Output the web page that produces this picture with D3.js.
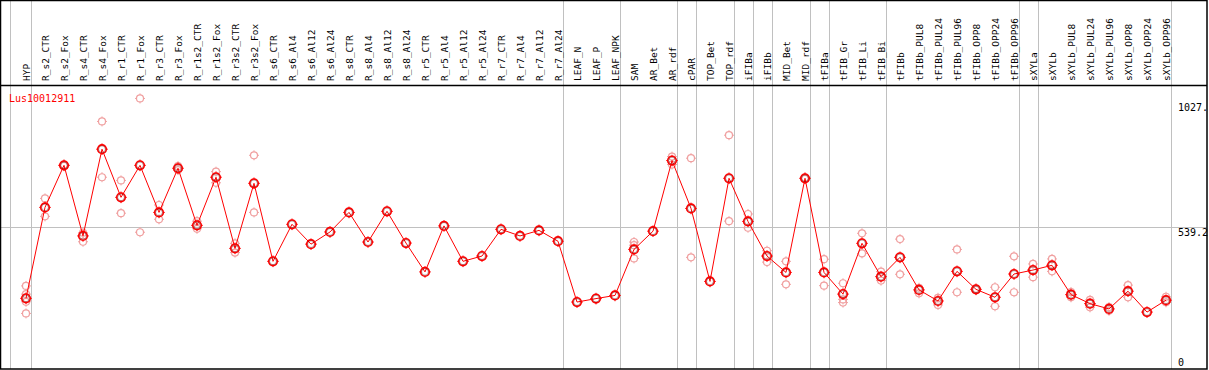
<!DOCTYPE html>
<html>
<head>
<meta charset="utf-8">
<script src="https://cdn.jsdelivr.net/npm/d3@7/dist/d3.min.js"></script>
<style>
  body { margin: 0; background: #fff; }
  text { font-family: "DejaVu Sans Mono", "Liberation Mono", monospace; }
</style>
</head>
<body>
<script>
// sample names, one column each
var categories = ["HYP", "R_s2_CTR", "R_s2_Fox", "R_s4_CTR", "R_s4_Fox", "R_r1_CTR", "R_r1_Fox",
    "R_r3_CTR", "R_r3_Fox", "R_r1s2_CTR", "R_r1s2_Fox", "R_r3s2_CTR", "R_r3s2_Fox", "R_s6_CTR",
    "R_s6_Al4", "R_s6_Al12", "R_s6_Al24", "R_s8_CTR", "R_s8_Al4", "R_s8_Al12", "R_s8_Al24",
    "R_r5_CTR", "R_r5_Al4", "R_r5_Al12", "R_r5_Al24", "R_r7_CTR", "R_r7_Al4", "R_r7_Al12",
    "R_r7_Al24", "LEAF_N", "LEAF_P", "LEAF_NPK", "SAM", "AR_Bet", "AR_rdf", "cPAR", "TOP_Bet",
    "TOP_rdf", "iFIBa", "iFIBb", "MID_Bet", "MID_rdf", "tFIBa", "tFIB_Gr", "tFIB_Li", "tFIB_Bi",
    "tFIBb", "tFIBb_PUL8", "tFIBb_PUL24", "tFIBb_PUL96", "tFIBb_OPP8", "tFIBb_OPP24",
    "tFIBb_OPP96", "sXYLa", "sXYLb", "sXYLb_PUL8", "sXYLb_PUL24", "sXYLb_PUL96", "sXYLb_OPP8",
    "sXYLb_OPP24", "sXYLb_OPP96"];

// mean expression per sample
var means = [271, 615, 774, 507, 835, 653, 774, 596, 763, 547, 729, 460, 706, 411,
    551, 476, 522, 596, 484, 600, 480, 371, 545, 411, 431, 532, 507, 528, 487,
    257, 270, 282, 456, 525, 792, 611, 335, 725, 562, 431, 369, 725, 369, 287,
    479, 353, 426, 303, 261, 373, 305, 275, 363, 378, 396, 285, 251, 231, 298,
    219, 264];

// replicate values per sample
var replicates = [[318, 287, 258, 214], [649, 581], [772, 776], [519, 485], [940, 729],
    [717, 593], [1027, 521], [624, 570], [771, 756], [563, 534], [750, 708], [479, 444],
    [812, 596], [], [], [], [], [], [], [], [], [], [], [], [], [], [], [], [], [], [], [],
    [484, 472, 422], [], [807, 777], [801, 426], [], [888, 563], [590, 538], [451, 408],
    [411, 324], [727, 723], [419, 319], [328, 267, 255], [517, 441], [372, 338], [495, 362],
    [311, 290], [273, 246], [456, 294], [307, 303], [313, 241], [430, 294], [401, 351],
    [420, 373], [295, 275], [265, 237], [238, 224], [321, 275], [], [277, 256]];

// divider lines come after these samples
var groupEnds = ["HYP", "R_r7_Al24", "LEAF_NPK", "AR_rdf", "cPAR", "TOP_rdf", "iFIBa", "iFIBb",
    "MID_rdf", "tFIBa", "tFIB_Bi", "tFIBb_OPP96", "sXYLa", "sXYLb_OPP96"];

var yTicks = [0, 539.2, 1027.5];
var yTickLabels = ["0", "539.2", "1027."];
var title = "Lus10012911";

var width = 1209, height = 370;
var headerBottom = 85, frameRight = 1207, frameBottom = 369;

var svg = d3.select("body").append("svg")
    .attr("width", width)
    .attr("height", height);

var x = d3.scalePoint().domain(categories).range([26, 1166]);
var y = d3.scaleLinear().domain([0, 1027.5]).range([370, 98.3]);

// grid
svg.append("line")
    .attr("x1", 10.5).attr("x2", 10.5).attr("y1", 0).attr("y2", frameBottom)
    .attr("stroke", "#c0c0c0");
svg.selectAll("line.divider").data(groupEnds).enter().append("line")
    .attr("class", "divider")
    .attr("x1", function (d) { return Math.round(x(d) + 4.5) + 0.5; })
    .attr("x2", function (d) { return Math.round(x(d) + 4.5) + 0.5; })
    .attr("y1", 0).attr("y2", frameBottom)
    .attr("stroke", "#c0c0c0");
svg.append("line")
    .attr("x1", 0).attr("x2", frameRight)
    .attr("y1", Math.round(y(539.2)) + 0.5).attr("y2", Math.round(y(539.2)) + 0.5)
    .attr("stroke", "#c0c0c0");

// column labels
svg.selectAll("text.cat").data(categories).enter().append("text")
    .attr("class", "cat")
    .attr("transform", function (d) { return "translate(" + (x(d) + 3.5) + ",81) rotate(-90)"; })
    .attr("font-size", "9.5px")
    .attr("fill", "#000")
    .text(function (d) { return d; });

// y labels
svg.selectAll("text.ytick").data(yTicks).enter().append("text")
    .attr("class", "ytick")
    .attr("x", 1178)
    .attr("y", function (d, i) { return i === 0 ? 366 : i === 2 ? 111 : y(d) + 9; })
    .attr("font-size", "10px")
    .attr("fill", "#000")
    .text(function (d, i) { return yTickLabels[i]; });

svg.append("text")
    .attr("x", 9).attr("y", 101.5)
    .attr("font-size", "10px")
    .attr("fill", "#ff0000")
    .text(title);

function marker(g, r, color, sw) {
    g.append("circle").attr("r", r).attr("fill", "none")
        .attr("stroke", color).attr("stroke-width", sw);
    [[0, -1], [0, 1], [-1, 0], [1, 0]].forEach(function (d) {
        g.append("line")
            .attr("x1", d[0] * r).attr("y1", d[1] * r)
            .attr("x2", d[0] * (r + 1.5)).attr("y2", d[1] * (r + 1.5))
            .attr("stroke", color).attr("stroke-width", 1);
    });
}

// replicates
var reps = [];
replicates.forEach(function (list, i) {
    list.forEach(function (v) { reps.push({ c: categories[i], v: v }); });
});
svg.selectAll("g.rep").data(reps).enter().append("g")
    .attr("class", "rep")
    .attr("transform", function (d) { return "translate(" + x(d.c) + "," + y(d.v) + ")"; })
    .each(function () { marker(d3.select(this), 3.5, "#f0a0a0", 1.2); });

// mean line
var line = d3.line()
    .x(function (d, i) { return x(categories[i]); })
    .y(function (d) { return y(d); });
svg.append("path").datum(means)
    .attr("d", line)
    .attr("fill", "none")
    .attr("stroke", "#ff0000")
    .attr("stroke-width", 1);

svg.selectAll("g.mean").data(means).enter().append("g")
    .attr("class", "mean")
    .attr("transform", function (d, i) { return "translate(" + x(categories[i]) + "," + y(d) + ")"; })
    .each(function () {
        var g = d3.select(this);
        marker(g, 4.3, "#ff0000", 1.6);
        g.append("circle").attr("r", 3.4).attr("fill", "none")
            .attr("stroke", "#600000").attr("stroke-width", 0.6).attr("stroke-opacity", 0.7);
    });

// frame and header separator
svg.append("rect")
    .attr("x", 0.5).attr("y", 0.5)
    .attr("width", frameRight - 0.5).attr("height", frameBottom - 0.5)
    .attr("fill", "none").attr("stroke", "#000").attr("stroke-width", 1.5);
svg.append("line")
    .attr("x1", 0).attr("x2", frameRight)
    .attr("y1", headerBottom + 0.5).attr("y2", headerBottom + 0.5)
    .attr("stroke", "#000").attr("stroke-width", 1.5);
</script>
</body>
</html>
